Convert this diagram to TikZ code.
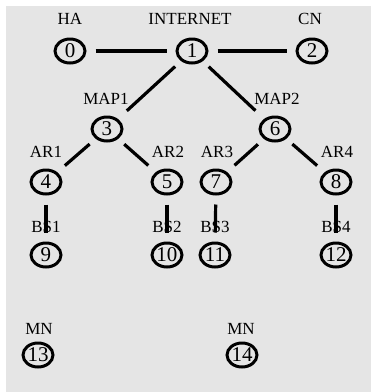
\documentclass[tikz,border=0pt]{standalone}
\usepackage{fontspec}
\setmainfont{Liberation Serif}
\usetikzlibrary{shapes.geometric}
\definecolor{bggray}{HTML}{E5E5E5}
\tikzset{
  nd/.style={ellipse, draw=black, line width=3pt, minimum width=30pt, minimum height=24pt, inner sep=0pt, font=\fontsize{21}{21}\selectfont},
  lbl/.style={inner sep=0pt, font=\fontsize{17}{17}\selectfont},
  edge/.style={line width=3.2pt, black},
}
\begin{document}
\begin{tikzpicture}[x=1pt,y=-1pt]
\useasboundingbox (0,0) rectangle (371,392);
\fill[bggray] (6,6) rectangle (371,392);
% labels
\node[lbl] (lHA) at (70,19) {HA};
\node[lbl] (lINT) at (190,19) {INTERNET};
\node[lbl] (lCN) at (310,19) {CN};
\node[lbl] (lMAP1) at (106,99) {MAP1};
\node[lbl] (lMAP2) at (277,99) {MAP2};
\node[lbl] (lAR1) at (46,152) {AR1};
\node[lbl] (lAR2) at (168,152) {AR2};
\node[lbl] (lAR3) at (217,152) {AR3};
\node[lbl] (lAR4) at (337,152) {AR4};
\node[lbl] (lBS1) at (46,227) {BS1};
\node[lbl] (lBS2) at (167,227) {BS2};
\node[lbl] (lBS3) at (215,227) {BS3};
\node[lbl] (lBS4) at (336,227) {BS4};
\node[lbl] (lMN1) at (39,329) {MN};
\node[lbl] (lMN2) at (241,329) {MN};
% nodes
\node[nd] (n0) at (70,51) {0};
\node[nd] (n1) at (192,51) {1};
\node[nd] (n2) at (312,51) {2};
\node[nd] (n3) at (107,129) {3};
\node[nd] (n6) at (275,129) {6};
\node[nd] (n4) at (46,182) {4};
\node[nd] (n5) at (167,182) {5};
\node[nd] (n7) at (216,182) {7};
\node[nd] (n8) at (336,182) {8};
\node[nd] (n9) at (46,255) {9};
\node[nd] (n10) at (167,255) {10};
\node[nd] (n11) at (215,255) {11};
\node[nd] (n12) at (336,255) {12};
\node[nd] (n13) at (38,355) {13};
\node[nd] (n14) at (242,355) {14};
% edges
\draw[edge, shorten <=9pt, shorten >=9pt] (n0) -- (n1);
\draw[edge, shorten <=9pt, shorten >=9pt] (n1) -- (n2);
\draw[edge, shorten <=8pt, shorten >=12pt] (n1) -- (n3);
\draw[edge, shorten <=8pt, shorten >=12pt] (n1) -- (n6);
\draw[edge, shorten <=8pt, shorten >=10pt] (n3) -- (n4);
\draw[edge, shorten <=8pt, shorten >=10pt] (n3) -- (n5);
\draw[edge, shorten <=8pt, shorten >=10pt] (n6) -- (n7);
\draw[edge, shorten <=8pt, shorten >=10pt] (n6) -- (n8);
\draw[edge, shorten <=9pt, shorten >=9pt] (n4) -- (n9);
\draw[edge, shorten <=9pt, shorten >=9pt] (n5) -- (n10);
\draw[edge, shorten <=9pt, shorten >=9pt] (n7) -- (n11);
\draw[edge, shorten <=9pt, shorten >=9pt] (n8) -- (n12);
\end{tikzpicture}
\end{document}
